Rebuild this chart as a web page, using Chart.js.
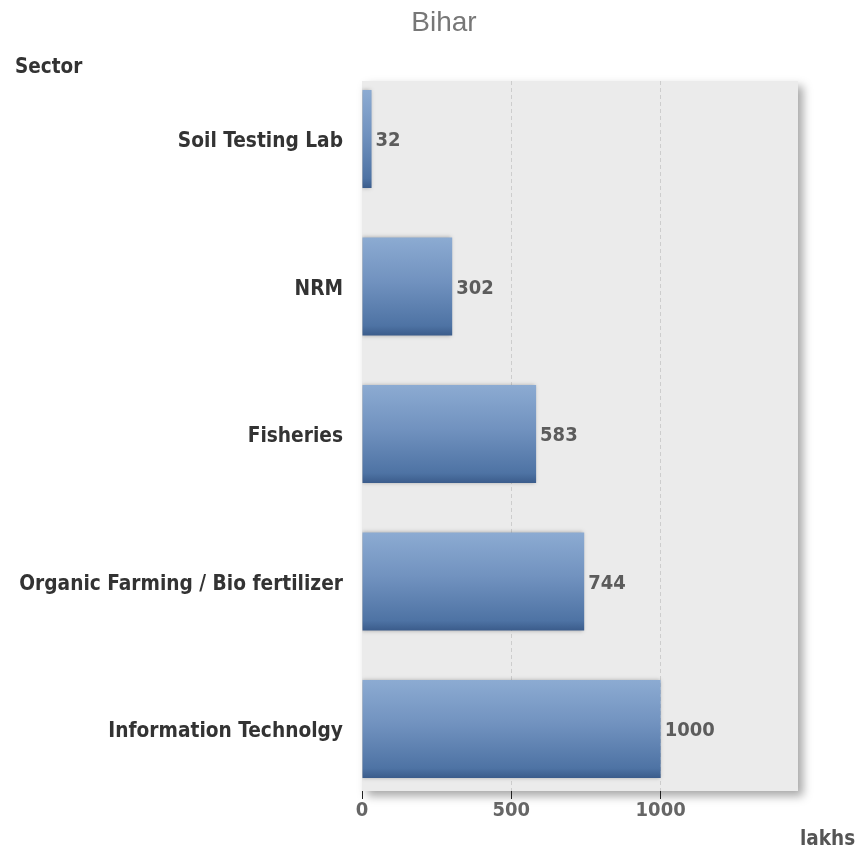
<!DOCTYPE html>
<html>
<head>
<meta charset="utf-8">
<script src="https://cdn.jsdelivr.net/npm/chart.js@4/dist/chart.umd.min.js"></script>
<style>
  html, body { margin: 0; padding: 0; background: #fff; }
  #wrap { width: 861px; height: 850px; position: relative; }
</style>
</head>
<body>
<div id="wrap"><canvas id="chart"></canvas></div>
<script>
const chartTitle = "Bihar";
const categoryTitle = "Sector";
const valueTitle = "lakhs";
const sectors = [
  "Soil Testing Lab",
  "NRM",
  "Fisheries",
  "Organic Farming / Bio fertilizer",
  "Information Technolgy"
];
const amounts = [32, 302, 583, 744, 1000];
const valueTicks = [0, 500, 1000];

const boldFont = "'DejaVu Sans Condensed', 'DejaVu Sans', sans-serif";

const plotBackground = {
  id: "plotBackground",
  beforeDraw(chart) {
    const { ctx, chartArea: a } = chart;
    ctx.save();
    ctx.shadowColor = "rgba(0, 0, 0, 0.35)";
    ctx.shadowBlur = 9;
    ctx.shadowOffsetX = 5;
    ctx.shadowOffsetY = 5;
    ctx.fillStyle = "#ebebeb";
    ctx.fillRect(a.left, a.top, a.right - a.left, a.bottom - a.top);
    ctx.restore();
  },
  beforeDatasetsDraw(chart) {
    const ctx = chart.ctx;
    ctx.save();
    ctx.shadowColor = "rgba(0, 0, 0, 0.28)";
    ctx.shadowBlur = 4;
    ctx.shadowOffsetX = -1;
    ctx.shadowOffsetY = 0;
  },
  afterDatasetsDraw(chart) {
    const ctx = chart.ctx;
    ctx.restore();
    ctx.save();
    ctx.font = "bold 20px " + boldFont;
    ctx.fillStyle = "#5c5c5c";
    ctx.textAlign = "left";
    ctx.textBaseline = "middle";
    chart.getDatasetMeta(0).data.forEach((bar, i) => {
      ctx.fillText(String(amounts[i]), bar.x + 4, bar.y + 2);
    });
    ctx.restore();
  },
  afterDraw(chart) {
    const ctx = chart.ctx;
    ctx.save();
    ctx.textBaseline = "middle";
    ctx.textAlign = "center";
    ctx.fillStyle = "#777";
    ctx.font = "28px 'Liberation Sans', Arial, sans-serif";
    ctx.fillText(chartTitle, 444, 23);
    ctx.textAlign = "left";
    ctx.fillStyle = "#333";
    ctx.font = "bold 20.5px " + boldFont;
    ctx.fillText(categoryTitle, 15, 68);
    ctx.fillStyle = "#555";
    ctx.fillText(valueTitle, 800, 840);
    ctx.restore();
  }
};

const barGradient = (context) => {
  const chart = context.chart;
  const y = chart.scales.y;
  if (!y || context.dataIndex === undefined) {
    return "#6b8dbb";
  }
  const center = y.getPixelForValue(context.dataIndex);
  if (!Number.isFinite(center)) {
    return "#6b8dbb";
  }
  const g = chart.ctx.createLinearGradient(0, center - 49, 0, center + 49);
  g.addColorStop(0, "#8cabd2");
  g.addColorStop(0.45, "#7192bf");
  g.addColorStop(0.9, "#4e73a4");
  g.addColorStop(1, "#3b5c8b");
  return g;
};

new Chart(document.getElementById("chart"), {
  type: "bar",
  data: {
    datasets: [
      {
        label: chartTitle,
        data: amounts.map((v, i) => ({ x: v, y: i })),
        backgroundColor: barGradient,
        borderWidth: 0,
        barPercentage: 0.665,
        categoryPercentage: 1
      }
    ]
  },
  plugins: [plotBackground],
  options: {
    indexAxis: "y",
    responsive: true,
    maintainAspectRatio: false,
    animation: false,
    layout: {
      padding: { top: 81, right: 63, bottom: 0, left: 0 }
    },
    plugins: {
      legend: { display: false },
      tooltip: { enabled: false }
    },
    scales: {
      x: {
        type: "linear",
        min: 0,
        max: 1460,
        afterFit(scale) {
          scale.height = 59;
        },
        afterBuildTicks(scale) {
          scale.ticks = valueTicks.map((v) => ({ value: v }));
        },
        border: { display: false, dash: [4, 3] },
        grid: {
          color: (c) => (c.tick && c.tick.value === 0 ? "rgba(0,0,0,0)" : "#cdcdcd"),
          tickColor: "#222",
          tickLength: 8,
          tickBorderDash: []
        },
        ticks: {
          padding: 0,
          color: "#666",
          font: { family: boldFont, size: 20, weight: "bold" },
          callback: (v) => String(v)
        }
      },
      y: {
        type: "linear",
        reverse: true,
        offset: false,
        min: -0.3932,
        max: 4.4204,
        afterFit(scale) {
          scale.width = 362;
        },
        afterBuildTicks(scale) {
          scale.ticks = sectors.map((_, i) => ({ value: i }));
        },
        border: { display: false },
        grid: { display: false, drawTicks: false, offset: false },
        ticks: {
          padding: 19,
          labelOffset: 3,
          color: "#333",
          font: { family: boldFont, size: 20.7, weight: "bold" },
          callback: (v) => sectors[v]
        }
      }
    }
  }
});
</script>
</body>
</html>
